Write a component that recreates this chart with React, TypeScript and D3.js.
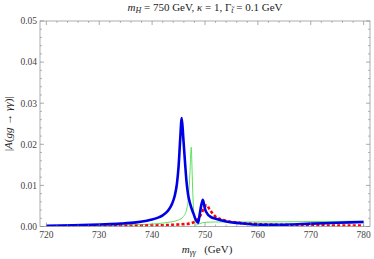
import React from "react";
import * as d3 from "d3";

const blueX = [720, 725, 730, 734, 737, 739, 740, 741, 742, 742.6, 743.2, 743.8, 744.3, 744.7, 745, 745.3, 745.6, 745.9, 746.2, 746.5, 746.8, 747.2, 747.8, 748.4, 748.7, 749.0, 749.3, 749.6, 750.0, 750.5, 751, 752.2, 754, 756.6, 759, 762, 766, 770, 775, 780];
const blueY = [0.0002, 0.0003, 0.0005, 0.0007, 0.0010, 0.0014, 0.0017, 0.0021, 0.0027, 0.0033, 0.0042, 0.0056, 0.0076, 0.0105, 0.0145, 0.0210, 0.0264, 0.0215, 0.0160, 0.0110, 0.0078, 0.0055, 0.0032, 0.0013, 0.0009, 0.0030, 0.0052, 0.0065, 0.0042, 0.0030, 0.0024, 0.0018, 0.0012, 0.0008, 0.0005, 0.0004, 0.0005, 0.0007, 0.0009, 0.0011];

const greenX = [720, 730, 736, 740, 743, 745, 745.9, 746.5, 746.9, 747.15, 747.4, 747.55, 747.7, 747.9, 748.05, 748.2, 748.5, 749, 750, 752, 756, 760, 770, 780];
const greenY = [0.0001, 0.0002, 0.0004, 0.0006, 0.0010, 0.0016, 0.0024, 0.0040, 0.0075, 0.0130, 0.0193, 0.0140, 0.0080, 0.0030, 0.0012, 0.0003, 0.0004, 0.0007, 0.0010, 0.0011, 0.0011, 0.0011, 0.0012, 0.0013];

const redX = [720, 730, 738, 742, 745, 747, 747.8, 748.5, 749.1, 749.7, 750.3, 750.9, 751.9, 753.5, 756.6, 759.7, 765, 770, 780];
const redY = [0.0000, 0.0001, 0.0002, 0.0003, 0.0005, 0.0007, 0.0010, 0.0016, 0.0026, 0.0042, 0.0052, 0.0041, 0.0025, 0.0016, 0.0009, 0.0006, 0.0004, 0.0003, 0.0002];

const xTicks = [720, 730, 740, 750, 760, 770, 780];
const yTicks = [0, 0.01, 0.02, 0.03, 0.04, 0.05];
const yTickLabels = ["0.00", "0.01", "0.02", "0.03", "0.04", "0.05"];

const W = 374, H = 259;
const left = 40, right = 370, top = 21, bottom = 226.5;
const font = "'Liberation Serif', 'DejaVu Serif', serif";

export default function App() {
  const x = d3.scaleLinear().domain([718.8, 781.2]).range([left, right]);
  const y = d3.scaleLinear().domain([0, 0.05]).range([bottom, top]);
  const line = d3.line<[number, number]>().x(d => x(d[0])).y(d => y(d[1])).curve(d3.curveMonotoneX);
  const blue = line(blueX.map((v, i) => [v, blueY[i]]))!;
  const green = line(greenX.map((v, i) => [v, greenY[i]]))!;
  const red = line(redX.map((v, i) => [v, redY[i]]))!;

  const xMinor = d3.range(720, 781, 2).filter(v => v % 10 !== 0);
  const yMinor = d3.range(0, 0.0501, 0.002).filter(v => Math.abs(v * 100 - Math.round(v * 100)) > 1e-6);
  const tickColor = "#888";
  const txt = "#444";

  return (
    <svg width={W} height={H} style={{ position: "absolute", left: 0, top: 0 }}>
      <rect width={W} height={H} fill="#fff" />
      <defs>
        <clipPath id="clip"><rect x={left} y={top} width={right - left} height={bottom - top} /></clipPath>
      </defs>
      <g clipPath="url(#clip)">
        <path d={green} fill="none" stroke="#5ee05e" strokeWidth={1} />
        <path d={red} fill="none" stroke="#f00" strokeWidth={2.6} strokeDasharray="3,2.2" />
        <path d={blue} fill="none" stroke="#0000e6" strokeWidth={2.6} strokeLinejoin="round" />
      </g>
      <rect x={left} y={top} width={right - left} height={bottom - top} fill="none" stroke="#999" strokeWidth={0.8} />
      {xTicks.map(t => (
        <g key={"xt" + t}>
          <line x1={x(t)} x2={x(t)} y1={bottom} y2={bottom - 4} stroke={tickColor} strokeWidth={0.7} />
          <line x1={x(t)} x2={x(t)} y1={top} y2={top + 4} stroke={tickColor} strokeWidth={0.7} />
          <text x={x(t)} y={bottom + 11} textAnchor="middle" fontFamily={font} fontSize={9.5} fill={txt}>{t}</text>
        </g>
      ))}
      {xMinor.map(t => (
        <g key={"xm" + t}>
          <line x1={x(t)} x2={x(t)} y1={bottom} y2={bottom - 2} stroke={tickColor} strokeWidth={0.6} />
          <line x1={x(t)} x2={x(t)} y1={top} y2={top + 2} stroke={tickColor} strokeWidth={0.6} />
        </g>
      ))}
      {yTicks.map((t, i) => (
        <g key={"yt" + t}>
          <line x1={left} x2={left + 4} y1={y(t)} y2={y(t)} stroke={tickColor} strokeWidth={0.7} />
          <line x1={right} x2={right - 4} y1={y(t)} y2={y(t)} stroke={tickColor} strokeWidth={0.7} />
          <text x={left - 3} y={y(t) + 3.3} textAnchor="end" fontFamily={font} fontSize={9.5} fill={txt}>{yTickLabels[i]}</text>
        </g>
      ))}
      {yMinor.map(t => (
        <g key={"ym" + t}>
          <line x1={left} x2={left + 2} y1={y(t)} y2={y(t)} stroke={tickColor} strokeWidth={0.6} />
          <line x1={right} x2={right - 2} y1={y(t)} y2={y(t)} stroke={tickColor} strokeWidth={0.6} />
        </g>
      ))}
      <text x={205} y={11} textAnchor="middle" fontFamily={font} fontSize={11} fill="#222">
        <tspan fontStyle="italic">m</tspan><tspan fontStyle="italic" fontSize={8} dy={2}>H</tspan>
        <tspan dy={-2}> = 750 GeV, </tspan><tspan fontStyle="italic">κ</tspan><tspan> = 1, Γ</tspan>
        <tspan fontStyle="italic" fontSize={8} dy={2}>t̃</tspan><tspan dy={-2}> = 0.1 GeV</tspan>
      </text>
      <text transform={`translate(12,${(top + bottom) / 2}) rotate(-90)`} textAnchor="middle" fontFamily={font} fontSize={11} fill="#222">
        |<tspan fontStyle="italic">A</tspan>(<tspan fontStyle="italic">gg</tspan> → <tspan fontStyle="italic">γγ</tspan>)|
      </text>
      <text x={207} y={253} textAnchor="middle" fontFamily={font} fontSize={11} fill="#222">
        <tspan fontStyle="italic">m</tspan><tspan fontStyle="italic" fontSize={8} dy={2}>γγ</tspan><tspan dy={-2}>{"\u00a0\u00a0\u00a0"}(GeV)</tspan>
      </text>
    </svg>
  );
}
